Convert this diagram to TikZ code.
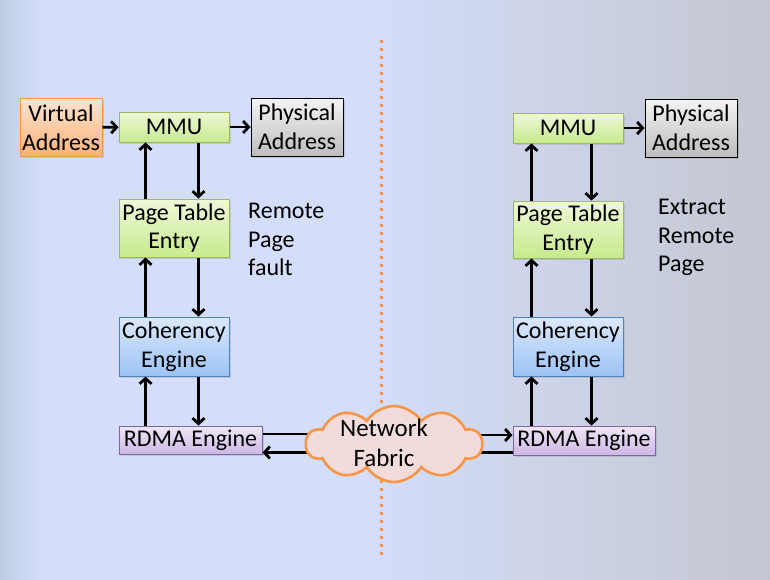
\documentclass[tikz,border=0pt]{standalone}
\usepackage{fontspec}
\setmainfont{Carlito}
\usetikzlibrary{arrows.meta,shapes.symbols,shadows}
\definecolor{bgA}{RGB}{190,204,226}
\definecolor{bgB}{RGB}{212,222,251}
\definecolor{bgC}{RGB}{196,199,209}
\definecolor{grT}{HTML}{EEF8D8}
\definecolor{grB}{HTML}{C8EA8E}
\definecolor{grD}{HTML}{9BBB59}
\definecolor{blT}{HTML}{DCE8FB}
\definecolor{blB}{HTML}{9DC3F6}
\definecolor{blD}{HTML}{4F81BD}
\definecolor{puT}{HTML}{EEE8F5}
\definecolor{puB}{HTML}{CDB7E6}
\definecolor{puD}{HTML}{8064A2}
\definecolor{orT}{HTML}{FDE4D0}
\definecolor{orB}{HTML}{F9B27A}
\definecolor{orD}{HTML}{F79646}
\definecolor{gyT}{HTML}{F4F4F4}
\definecolor{gyB}{HTML}{BDBDBD}
\definecolor{cloudF}{HTML}{F2DCDB}
\pgfdeclarehorizontalshading{bgshade}{100bp}{color(0bp)=(bgA); color(25bp)=(bgA); color(27.6bp)=(bgB); color(48.4bp)=(bgB); color(75bp)=(bgC); color(100bp)=(bgC)}
\tikzset{
  box/.style={rectangle, inner sep=0pt, align=center, font=\fontsize{24}{28.5}\selectfont,
    drop shadow={opacity=0.25, shadow xshift=1.5pt, shadow yshift=-1.5pt}},
  greenbox/.style={box, draw=grD, line width=1pt, top color=grT, bottom color=grB},
  bluebox/.style={box, draw=blD, line width=1pt, top color=blT, bottom color=blB},
  purplebox/.style={box, draw=puD, line width=1pt, top color=puT, bottom color=puB},
  orangebox/.style={box, draw=orD, line width=1pt, top color=orT, bottom color=orB},
  graybox/.style={box, draw=black, line width=1pt, top color=gyT, bottom color=gyB},
  arr/.style={line width=2.8pt, -{Straight Barb[length=5.5pt,width=12pt]}},
  plain/.style={line width=2.8pt},
  note/.style={align=left, anchor=west, inner sep=0pt, font=\fontsize{24}{28.5}\selectfont},
}
\begin{document}
\begin{tikzpicture}[x=1pt,y=-1pt]
\shade[shading=bgshade] (0,0) rectangle (770,579);
\useasboundingbox (0,0) rectangle (770,579);
% divider
\coordinate (divtop) at (381,40);
\coordinate (divbot) at (381,556);
\draw[orD, line width=3pt, dash pattern=on 3pt off 5pt] (divtop) -- (divbot);
% left side
\node[orangebox, minimum width=82pt, minimum height=58pt] (va) at (61,127.5) {Virtual\\Address};
\node[greenbox, minimum width=110pt, minimum height=30pt] (mmuL) at (174,127) {MMU};
\node[graybox, minimum width=92pt, minimum height=58pt] (paL) at (297,127) {Physical\\Address};
\node[greenbox, minimum width=110pt, minimum height=58pt] (pteL) at (174,228) {Page Table\\Entry};
\node[bluebox, minimum width=110pt, minimum height=59pt] (cohL) at (174,346.5) {Coherency\\Engine};
\node[purplebox, minimum width=143pt, minimum height=28pt] (rdmaL) at (190.5,440) {RDMA Engine};
\node[note] (rpf) at (248,239.5) {Remote\\Page\\fault};
% right side
\node[greenbox, minimum width=110pt, minimum height=30pt] (mmuR) at (568,128) {MMU};
\node[graybox, minimum width=92pt, minimum height=58pt] (paR) at (691,128) {Physical\\Address};
\node[greenbox, minimum width=110pt, minimum height=57pt] (pteR) at (568,229.5) {Page Table\\Entry};
\node[bluebox, minimum width=110pt, minimum height=59pt] (cohR) at (568,346.5) {Coherency\\Engine};
\node[purplebox, minimum width=142pt, minimum height=29pt] (rdmaR) at (584,440.5) {RDMA Engine};
\node[note] (erp) at (658,237.5) {Extract\\Remote\\Page};
% cloud centre
\coordinate (cc) at (394,444);
% links to cloud (drawn under the cloud)
\draw[plain] ([yshift=6pt]rdmaL.east) -- ([yshift=6pt]rdmaL.east -| cc);
\draw[arr] ([yshift=-12.5pt]rdmaL.east -| cc) -- ([yshift=-12.5pt]rdmaL.east);
\draw[arr] ([yshift=5.5pt]rdmaR.west -| cc) -- ([yshift=5.5pt]rdmaR.west);
\draw[plain] ([yshift=-12pt]rdmaR.west) -- ([yshift=-12pt]rdmaR.west -| cc);
\node[cloud, cloud puffs=10, cloud puff arc=115, aspect=2.4, draw=orD, fill=cloudF, line width=2.6pt,
      minimum width=176pt, minimum height=76pt, inner sep=0pt,
      label={[xshift=-10pt, yshift=1pt, align=center, font=\fontsize{25}{30}\selectfont]center:Network\\Fabric}] (cloud) at (cc) {};
% top arrows
\draw[arr] (va) -- (mmuL);
\draw[arr] (mmuL) -- (paL);
\draw[arr] (mmuR) -- (paR);
% left verticals
\draw[arr] ([xshift=27pt]pteL.north west) -- ([xshift=27pt]mmuL.south west);
\draw[arr] ([xshift=80pt]mmuL.south west) -- ([xshift=80pt]pteL.north west);
\draw[arr] ([xshift=27pt]cohL.north west) -- ([xshift=27pt]pteL.south west);
\draw[arr] ([xshift=80pt]pteL.south west) -- ([xshift=80pt]cohL.north west);
\draw[arr] ([xshift=27pt]rdmaL.north west) -- ([xshift=27pt]cohL.south west);
\draw[arr] ([xshift=80pt]cohL.south west) -- ([xshift=80pt]rdmaL.north west);
% right verticals
\draw[arr] ([xshift=19pt]pteR.north west) -- ([xshift=19pt]mmuR.south west);
\draw[arr] ([xshift=79pt]mmuR.south west) -- ([xshift=79pt]pteR.north west);
\draw[arr] ([xshift=19pt]cohR.north west) -- ([xshift=19pt]pteR.south west);
\draw[arr] ([xshift=79pt]pteR.south west) -- ([xshift=79pt]cohR.north west);
\draw[arr] ([xshift=19pt]rdmaR.north west) -- ([xshift=19pt]cohR.south west);
\draw[arr] ([xshift=79pt]cohR.south west) -- ([xshift=79pt]rdmaR.north west);
\end{tikzpicture}
\end{document}
